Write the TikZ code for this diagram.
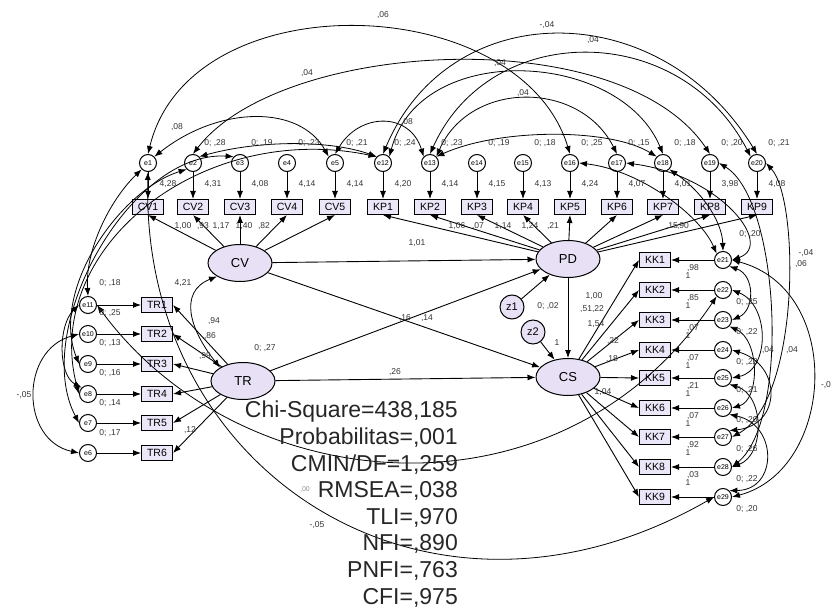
\documentclass[tikz,border=0pt]{standalone}
\usepackage{fontspec}
\setmainfont{Liberation Sans}
\usetikzlibrary{arrows.meta,shapes.geometric}

\definecolor{latfill}{RGB}{232,225,246}
\definecolor{obsfill}{RGB}{236,231,248}

\tikzset{
  lat/.style={ellipse, draw, line width=1pt, fill=latfill, minimum width=64pt,
    minimum height=37pt, inner sep=0pt, font=\fontsize{13}{14}\selectfont},
  obs/.style={rectangle, draw, line width=1pt, fill=obsfill, minimum width=31pt,
    minimum height=15pt, inner sep=1pt, font=\fontsize{10.5}{11}\selectfont},
  err/.style={circle, draw, line width=1pt, fill=white, minimum size=17pt,
    inner sep=0pt, font=\fontsize{7}{7}\selectfont},
  dist/.style={circle, draw, line width=1pt, fill=latfill, minimum size=24pt,
    inner sep=0pt, font=\fontsize{11}{12}\selectfont},
  lbl/.style={inner sep=0pt, font=\fontsize{8.5}{9}\selectfont, text=black!80},
  arr/.style={-{Latex[length=8pt,width=6pt]}, line width=0.9pt},
  cov/.style={{Latex[length=8pt,width=6pt]}-{Latex[length=8pt,width=6pt]}, line width=0.8pt},
  stat/.style={anchor=north east, align=right, inner sep=0pt, text=black!85,
    font=\fontsize{23}{26.6}\selectfont}
}

\begin{document}
\begin{tikzpicture}[x=1pt,y=-1pt]
\useasboundingbox (0,0) rectangle (832,609);

% --- Latent variables and disturbances ---
\node[lat] (CV) at (240,263) {CV};
\node[lat] (PD) at (568,259) {PD};
\node[lat] (TR) at (243,381) {TR};
\node[lat] (CS) at (568,377) {CS};
\node[dist] (z1) at (512,307) {z1};
\node[dist] (z2) at (533,332) {z2};

% --- CV indicators (top left) ---
\foreach \n/\x in {1/148,2/193,3/240,4/287,5/335} {
  \node[err] (e\n) at (\x,163) {e\n};
  \node[obs] (CV\n) at (\x,207) {CV\n};
  \draw[arr] (e\n) -- (CV\n);
  \draw[arr] (CV) -- (CV\n.south);
}

% --- KP indicators (top right) ---
\foreach \n/\e/\x in {1/12/383,2/13/430,3/14/477,4/15/523,5/16/570,6/17/617,7/18/663,8/19/710,9/20/757} {
  \node[err] (e\e) at (\x,163) {e\e};
  \node[obs] (KP\n) at (\x,207) {KP\n};
  \draw[arr] (e\e) -- (KP\n);
  \draw[arr] (PD) -- (KP\n.south);
}

% --- TR indicators (left) ---
\foreach \n/\e/\y in {1/11/305,2/10/334,3/9/364,4/8/394,5/7/423,6/6/453} {
  \node[err] (e\e) at (88,\y) {e\e};
  \node[obs] (TR\n) at (157,\y) {TR\n};
  \draw[arr] (e\e) -- (TR\n);
  \draw[arr] (TR) -- (TR\n.east);
}

% --- KK indicators (right) ---
\foreach \n/\y in {1/260,2/290,3/320,4/350,5/378,6/408,7/437,8/467,9/497} {
  \pgfmathtruncatemacro\e{20+\n}
  \node[err] (e\e) at (723,\y) {e\e};
  \node[obs] (KK\n) at (655,\y) {KK\n};
  \draw[arr] (e\e) -- (KK\n);
  \draw[arr] (CS) -- (KK\n.west);
}

% --- Structural paths ---
\draw[arr] (CV) -- (PD);
\draw[arr] (CV) -- (CS);
\draw[arr] (TR) -- (PD);
\draw[arr] (TR) -- (CS);
\draw[arr] (PD) -- (CS);
\draw[arr] (z1) -- (PD);
\draw[arr] (z2) -- (CS);
\draw[cov] (TR.north west) .. controls (190,330) and (178,292) .. (CV.south west);

% --- Covariances over the top ---
\draw[cov] (e1.north) .. controls (190,-20) and (520,-10) .. (e16.north);
\draw[cov] (e2.north) .. controls (280,40) and (620,20) .. (e19.north);
\draw[cov] (e12.north) .. controls (450,-5) and (660,-5) .. (e20.north);
\draw[cov] (e13.north) .. controls (490,20) and (680,20) .. (e20.north west);
\draw[cov] (e13.north east) .. controls (470,80) and (580,80) .. (e17.north);
\draw[cov] (e12.north east) .. controls (420,40) and (620,50) .. (e18.north);
\draw[cov] (e5.north) .. controls (360,112) and (410,112) .. (e13.north west);
\draw[cov] (e1.north east) .. controls (220,105) and (300,105) .. (e5.north west);
\draw[cov] (e2.north east) .. controls (260,140) and (330,140) .. (e12.north west);
\draw[cov] (e13.north east) .. controls (500,128) and (610,128) .. (e18.north west);

% --- Covariances down the left side ---
\draw[cov] (e1.south west) .. controls (110,200) and (85,250) .. (e11.north);
\draw[cov] (e2.south west) .. controls (120,190) and (50,290) .. (e9.west);
\draw[cov] (e3.north west) .. controls (130,150) and (30,330) .. (e7.west);
\draw[cov] (e12.north west) .. controls (200,120) and (40,250) .. (e8.west);
\draw[cov] (e10.west) .. controls (20,350) and (20,440) .. (e6.west);
\draw[cov] (e11.west) .. controls (58,325) and (58,375) .. (e8.north west);

% --- Long covariances below ---
\draw[cov] (e1.south) .. controls (140,475) and (430,660) .. (e29.west);
\draw[cov] (e11.east) .. controls (240,500) and (560,530) .. (e22.south west);

% --- Covariances on the right ---
\draw[cov] (e21.east) .. controls (845,290) and (835,470) .. (e29.east);
\draw[cov] (e20.east) .. controls (800,200) and (800,400) .. (e27.east);
\draw[cov] (e19.east) .. controls (780,200) and (790,420) .. (e28.east);
\draw[cov] (e18.south east) .. controls (700,190) and (722,220) .. (e21.north);
\draw[cov] (e16.east) .. controls (640,170) and (700,215) .. (e21.north west);
\draw[cov] (e17.east) .. controls (720,175) and (775,245) .. (e21.east);
\draw[cov] (e21.south east) .. controls (755,275) and (755,310) .. (e23.east);
\draw[cov] (e22.east) .. controls (770,305) and (770,370) .. (e25.east);
\draw[cov] (e23.south east) .. controls (760,340) and (760,400) .. (e26.east);
\draw[cov] (e24.east) .. controls (782,365) and (782,425) .. (e27.north east);
\draw[cov] (e25.south east) .. controls (765,395) and (765,455) .. (e28.east);
\draw[cov] (e26.south east) .. controls (778,425) and (778,490) .. (e29.north east);

% --- Labels: variances and intercepts, top row ---
\foreach \e/\x/\v [count=\i] in {2/193/{,28},3/240/{,19},4/287/{,23},5/335/{,21},12/383/{,24},13/430/{,23},14/477/{,19},15/523/{,18},16/570/{,25},17/617/{,15},18/663/{,18},19/710/{,20},20/757/{,21}}
  \node[lbl] (vt\i) at (\x+22,143) {0; \v};
\foreach \x/\v [count=\i] in {148/{4,28},193/{4,31},240/{4,08},287/{4,14},335/{4,14},383/{4,20},430/{4,14},477/{4,15},523/{4,13},570/{4,24},617/{4,07},663/{4,01},710/{3,98},757/{4,08}}
  \node[lbl] (it\i) at (\x+20,184) {\v};

% --- Labels: loadings below the top boxes ---
\foreach \x/\v [count=\i] in {183/{1,00},203/{,93},221/{1,17},244/{1,40},264/{,82},457/{1,06},478/{,07},503/{1,14},530/{1,24},553/{,21},672/{,15},683/{,90}}
  \node[lbl] (ld\i) at (\x,226) {\v};

% --- Labels: TR side ---
\foreach \y/\v [count=\i] in {283/{,18},313/{,25},343/{,13},373/{,16},403/{,14},433/{,17}}
  \node[lbl] (vl\i) at (110,\y) {0; \v};
\node[lbl] (l1) at (183,283) {4,21};
\node[lbl] (l2) at (214,321) {,94};
\node[lbl] (l3) at (210,336) {,86};
\node[lbl] (l4) at (205,356) {,99};
\node[lbl] (l5) at (190,430) {,12};
\node[lbl] (l6) at (265,348) {0; ,27};
\node[lbl] (l7) at (24,395) {-,05};

% --- Labels: structural part ---
\node[lbl] (s1) at (417,243) {1,01};
\node[lbl] (s2) at (405,318) {,16};
\node[lbl] (s3) at (427,318) {,14};
\node[lbl] (s4) at (395,372) {,26};
\node[lbl] (s5) at (548,306) {0; ,02};
\node[lbl] (s6) at (594,296) {1,00};
\node[lbl] (s7) at (592,309) {,51,22};
\node[lbl] (s8) at (596,324) {1,54};
\node[lbl] (s9) at (613,341) {,22};
\node[lbl] (s10) at (612,359) {,18};
\node[lbl] (s11) at (557,343) {1};
\node[lbl] (s12) at (603,392) {1,04};

% --- Labels: KK side ---
\foreach \y/\v [count=\i] in {260/{,98},290/{,85},320/{,07},350/{,07},378/{,21},408/{,07},437/{,92},467/{,03}} {
  \node[lbl] (kv\i) at (693,\y+8) {\v};
  \node[lbl] (kn\i) at (688,\y+16) {1};
}
\node[lbl] (r0) at (750,234) {0; ,20};
\foreach \y/\v [count=\i] in {290/{,25},320/{,22},350/{,22},378/{,21},408/{,20},437/{,26},467/{,22},497/{,20}}
  \node[lbl] (rv\i) at (747,\y+12) {0; \v};
\node[lbl] (r1) at (806,253) {-,04};
\node[lbl] (r2) at (801,264) {,06};
\node[lbl] (r3) at (768,350) {,04};
\node[lbl] (r4) at (792,350) {,04};
\node[lbl] (r5) at (826,385) {-,0};

% --- Labels: covariances ---
\node[lbl] (c1) at (383,15) {,06};
\node[lbl] (c2) at (307,73) {,04};
\node[lbl] (c3) at (177,127) {,08};
\node[lbl] (c4) at (407,122) {,08};
\node[lbl] (c5) at (547,25) {-,04};
\node[lbl] (c6) at (593,40) {,04};
\node[lbl] (c7) at (500,63) {,04};
\node[lbl] (c8) at (523,93) {,04};
\node[lbl] (c9) at (317,525) {-,05};
\node[lbl, text=black!45, font=\fontsize{7}{8}\selectfont] (c10) at (305,490) {,00};

% --- Fit statistics ---
\node[stat] (fit) at (458,401) {Chi-Square=438,185\\Probabilitas=,001\\CMIN/DF=1,259\\RMSEA=,038\\TLI=,970\\NFI=,890\\PNFI=,763\\CFI=,975};

\end{tikzpicture}
\end{document}
